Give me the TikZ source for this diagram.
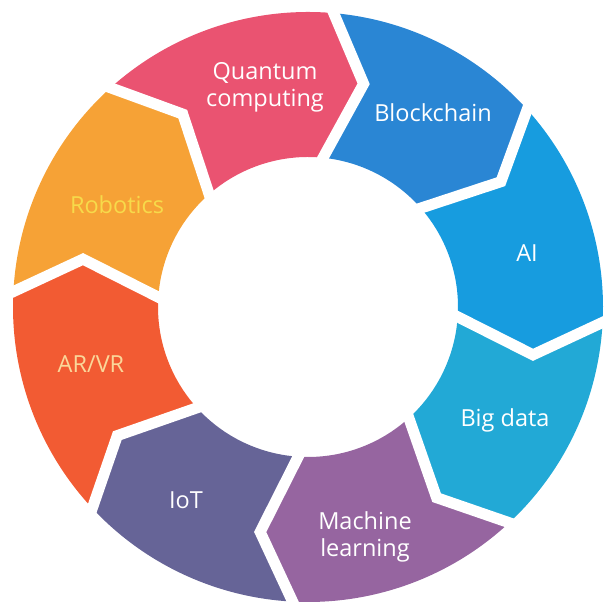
\documentclass[tikz,border=0pt]{standalone}
\usepackage{fontspec}
\setmainfont{Open Sans}
\definecolor{robotics}{HTML}{F6A236}
\definecolor{quantum}{HTML}{EA5371}
\definecolor{blockchain}{HTML}{2A86D4}
\definecolor{ai}{HTML}{179CDF}
\definecolor{bigdata}{HTML}{22A9D6}
\definecolor{mlearn}{HTML}{9665A0}
\definecolor{iot}{HTML}{666497}
\definecolor{arvr}{HTML}{F25B33}
\definecolor{robotext}{HTML}{F7DA4A}
\definecolor{arvrtext}{HTML}{FAD79A}
\begin{document}
\begin{tikzpicture}[x=1pt, y=1pt,
  txt/.style={text=white, font=\fontsize{23.5}{27}\selectfont, align=center, inner sep=0pt},
  gap/.style={draw=white, line width=11pt, line join=miter}]
\useasboundingbox (0,0) rectangle (606,604);
\clip (0,0) rectangle (606,604);
\begin{scope}[shift={(308,297)}]
\fill[robotics] (178:295) arc[start angle=178, end angle=133, radius=295] -- (123:230) -- (133:150) arc[start angle=133, end angle=178, radius=150] -- (168:230) -- cycle;
\fill[quantum] (133:295) arc[start angle=133, end angle=86, radius=295] -- (76:230) -- (86:150) arc[start angle=86, end angle=133, radius=150] -- (123:230) -- cycle;
\fill[blockchain] (86:295) arc[start angle=86, end angle=43, radius=295] -- (33:230) -- (43:150) arc[start angle=43, end angle=86, radius=150] -- (76:230) -- cycle;
\fill[ai] (43:295) arc[start angle=43, end angle=-2, radius=295] -- (-12:230) -- (-2:150) arc[start angle=-2, end angle=43, radius=150] -- (33:230) -- cycle;
\fill[bigdata] (-2:295) arc[start angle=-2, end angle=-46, radius=295] -- (-56:230) -- (-46:150) arc[start angle=-46, end angle=-2, radius=150] -- (-12:230) -- cycle;
\fill[mlearn] (-46:295) arc[start angle=-46, end angle=-92, radius=295] -- (-102:230) -- (-92:150) arc[start angle=-92, end angle=-46, radius=150] -- (-56:230) -- cycle;
\fill[iot] (-92:295) arc[start angle=-92, end angle=-136, radius=295] -- (-146:230) -- (-136:150) arc[start angle=-136, end angle=-92, radius=150] -- (-102:230) -- cycle;
\fill[arvr] (224:295) arc[start angle=224, end angle=178, radius=295] -- (168:230) -- (178:150) arc[start angle=178, end angle=224, radius=150] -- (214:230) -- cycle;
\draw[gap] (178:305) -- (168:230) -- (178:140);
\draw[gap] (133:305) -- (123:230) -- (133:140);
\draw[gap] (86:305) -- (76:230) -- (86:140);
\draw[gap] (43:305) -- (33:230) -- (43:140);
\draw[gap] (-2:305) -- (-12:230) -- (-2:140);
\draw[gap] (-46:305) -- (-56:230) -- (-46:140);
\draw[gap] (-92:305) -- (-102:230) -- (-92:140);
\draw[gap] (-136:305) -- (-146:230) -- (-136:140);
\end{scope}
\node[txt] (quantum) at (265,517) {Quantum\\computing};
\node[txt] (blockchain) at (433,491) {Blockchain};
\node[txt] (ai) at (527,351) {AI};
\node[txt] (bigdata) at (505,184) {Big data};
\node[txt] (mlearn) at (365,67) {Machine\\learning};
\node[txt] (iot) at (186,104) {IoT};
\node[txt, text=arvrtext] (arvr) at (91,240) {AR/VR};
\node[txt, text=robotext] (robotics) at (117,399) {Robotics};
\end{tikzpicture}
\end{document}
